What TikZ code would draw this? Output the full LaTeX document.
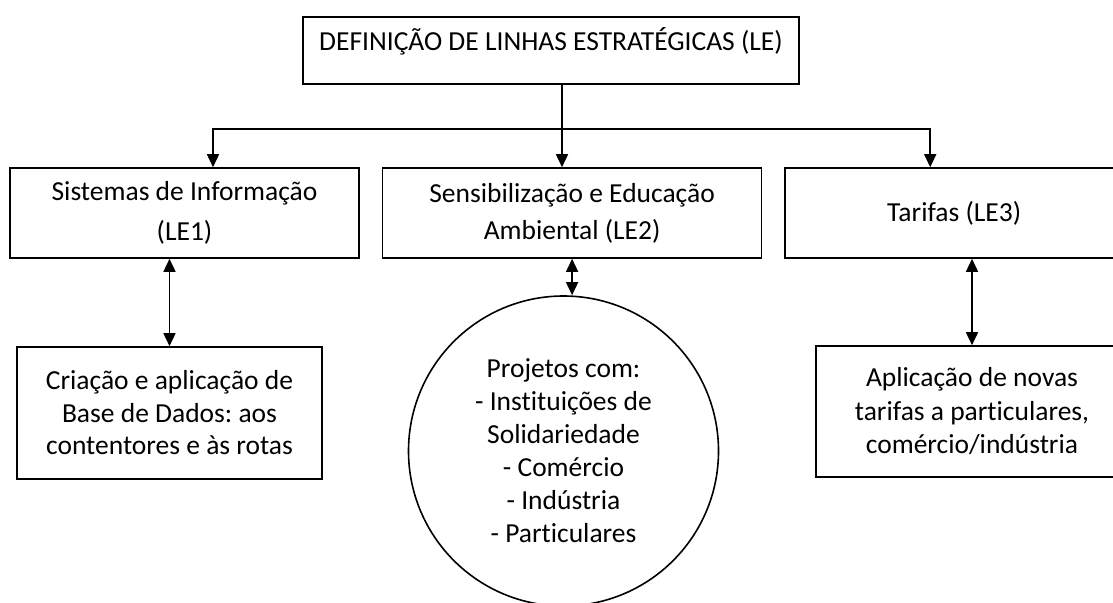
\documentclass[tikz,border=0pt]{standalone}
\usepackage{fontspec}
\setmainfont[RawFeature={-liga;-clig;-dlig;-calt}]{Carlito}
\usepackage{tikz}
\usetikzlibrary{arrows.meta, positioning, calc}
\frenchspacing

\begin{document}
\begin{tikzpicture}[x=1pt, y=-1pt, font=\fontsize{27.5}{33}\selectfont,
    linebox/.style={rectangle, draw=black, line width=1.6pt, align=center, inner sep=0pt},
    linkarrow/.style={-{Triangle[length=13pt,width=12pt]}, line width=1.6pt},
    twoway/.style={{Triangle[length=13pt,width=12pt]}-{Triangle[length=13pt,width=12pt]}, line width=1.6pt}]

    \useasboundingbox[fill=white] (0,0) rectangle (1113,602);

    \node (defle) [linebox, minimum width=496pt, text height=34pt, text depth=33pt] at (551,50.5)
      {DEFINIÇÃO DE LINHAS ESTRATÉGICAS (LE)};

    \node (le1) [linebox, minimum width=349pt, minimum height=90pt,
      font=\fontsize{27.5}{40}\selectfont] at (184.5,213)
      {Sistemas de Informação\\(LE1)};
    \node (le2) [linebox, minimum width=379pt, minimum height=90pt, right=22pt of le1,
      font=\fontsize{27.5}{37}\selectfont]
      {Sensibilização e Educação\\Ambiental (LE2)};
    \node (le3) [linebox, minimum width=338pt, minimum height=90pt, right=22pt of le2]
      {Tarifas (LE3)};

    \node (dados) [linebox, minimum width=305pt, minimum height=132pt,
      font=\fontsize{27.5}{32.5}\selectfont] at (169.5,413)
      {Criação e aplicação de\\Base de Dados: aos\\contentores e às rotas};
    \node (projetos) [circle, draw=black, line width=1.6pt, minimum size=310pt, inner sep=0pt,
      align=center] at (563.5,451)
      {Projetos com:\\- Instituições de\\Solidariedade\\- Comércio\\- Indústria\\- Particulares};
    \node (tarifas) [linebox, minimum width=312pt, minimum height=131pt,
      font=\fontsize{27.5}{33.5}\selectfont] at (972,411.5)
      {Aplicação de novas\\tarifas a particulares,\\comércio/indústria};

    % Split from the top box into the three lines
    \coordinate (hub) at (562,129);
    \draw [linkarrow] (defle.south -| hub) -- (hub |- le2.north);
    \draw [linkarrow] (hub) -| ([xshift=28.5pt]le1.north);
    \draw [linkarrow] (hub) -| ([xshift=-24pt]le3.north);

    \draw [twoway] (dados.north) -- (dados.north |- le1.south);
    \draw [twoway] (le2.south) -- (le2.south |- projetos.north);
    \draw [twoway] (tarifas.north) -- (tarifas.north |- le3.south);
\end{tikzpicture}
\end{document}
